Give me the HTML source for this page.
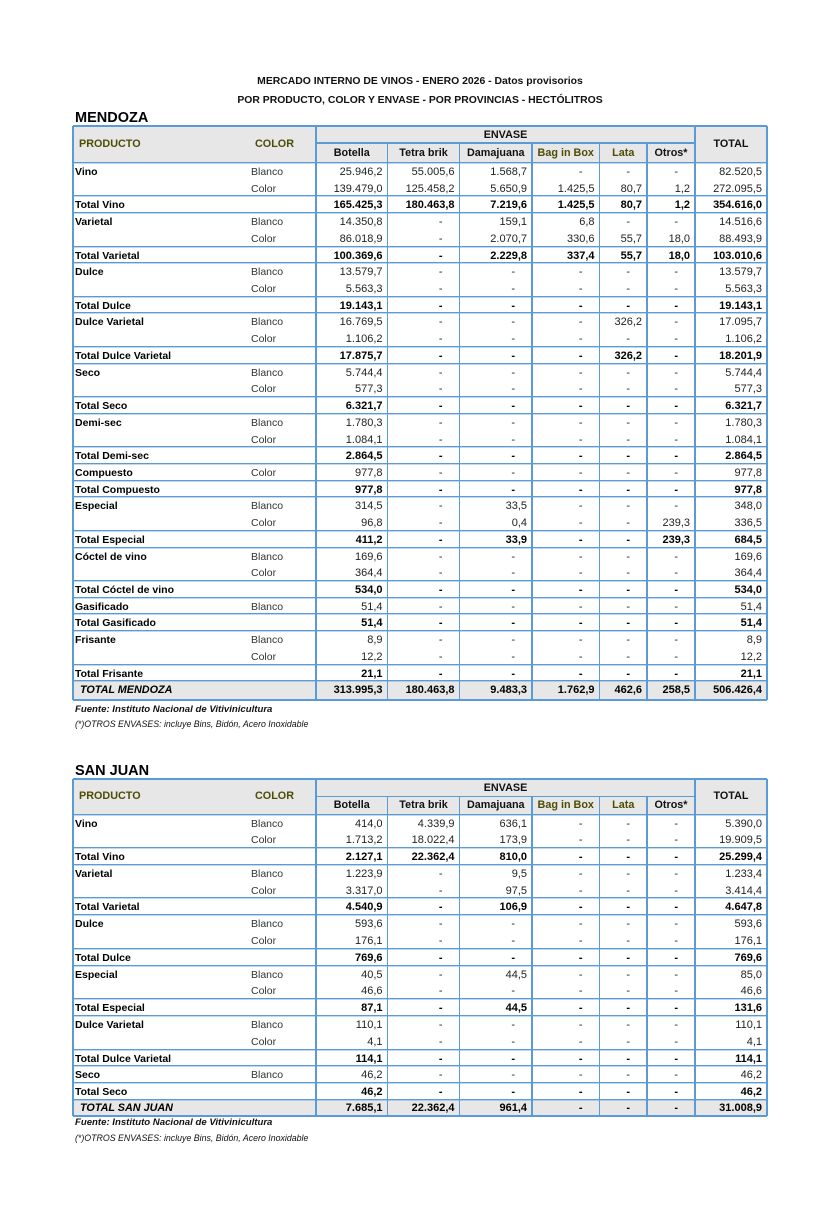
<!DOCTYPE html>
<html><head><meta charset="utf-8">
<style>
html,body{margin:0;padding:0;background:#fff}
body{width:840px;height:1206px;position:relative;overflow:hidden;font-family:"Liberation Sans",Arial,sans-serif;color:#111}
.ttl{position:absolute;left:0;width:840px;text-align:center;font-weight:bold;font-size:10.4px;height:14px;line-height:14px;color:#111}
.prov{position:absolute;left:75px;font-weight:bold;font-size:14.5px;height:18px;line-height:18px;color:#000}
.fn{position:absolute;left:75px;font-style:italic;font-size:8.8px;height:12px;line-height:12px;color:#111;white-space:nowrap}
.fn.b{font-weight:bold;font-size:9.6px}
.tb{position:absolute;left:73px;width:694px}
.hd{position:absolute;left:0;top:0;width:694px;background:#e7e7e7}
.hd span{position:absolute;font-weight:bold;font-size:10.8px;height:16px;line-height:16px;text-align:center;white-space:nowrap;color:#111}
.ol{color:#4d4d06!important}
.rows{position:absolute;left:0;width:694px}
.r{display:flex;height:16.73px;line-height:16.73px;font-size:11px;color:#222;white-space:nowrap}
.sj .r{height:16.8px;line-height:16.8px}
.r>span{display:block;box-sizing:border-box;position:relative;top:2px;flex:none}
.r>span:nth-child(1){width:176px;padding-left:2px;font-weight:bold;font-size:10.5px;color:#000}
.r>span:nth-child(2){width:67px;padding-left:2px;font-size:10.5px;color:#333}
.r>span:nth-child(n+3){text-align:right;padding-right:5px}
.r>span:nth-child(3){width:71.5px}
.r>span:nth-child(4){width:72px}
.r>span:nth-child(5){width:72.5px}
.r>span:nth-child(6){width:67.5px}
.r>span:nth-child(7){width:47.5px}
.r>span:nth-child(8){width:48px}
.r>span:nth-child(9){width:72px}
.r>span.d{padding-right:17px}
.r.t>span{font-weight:bold;color:#000}
.bt{box-shadow:inset 0 1.4px 0 #5b9bd5}
.r.tot{background:#e7e7e7}
.r.tot>span{top:1px}
.r.tot>span:nth-child(1){padding-left:7px;font-style:italic;font-size:10.8px}
.v{position:absolute;width:1.4px;margin-left:-0.7px;background:#5b9bd5}
.h{position:absolute;height:1.4px;margin-top:-0.7px;background:#5b9bd5}
</style></head><body>

<div class="ttl" style="top:75px">MERCADO INTERNO DE VINOS - ENERO 2026 - Datos provisorios</div>
<div class="ttl" style="top:94px">POR PRODUCTO, COLOR Y ENVASE - POR PROVINCIAS - HECTÓLITROS</div>

<div class="prov" style="top:109px">MENDOZA</div>

<div class="tb" style="top:126px;height:574px">
  <div class="hd" style="height:36px">
    <span class="ol" style="left:6px;top:10px;text-align:left">PRODUCTO</span>
    <span class="ol" style="left:182px;top:10px;text-align:left">COLOR</span>
    <span style="left:243px;width:379px;top:1px">ENVASE</span>
    <span style="left:243px;width:71.5px;top:19px">Botella</span>
    <span style="left:314.5px;width:72px;top:19px">Tetra brik</span>
    <span style="left:386.5px;width:72.5px;top:19px">Damajuana</span>
    <span class="ol" style="left:459px;width:67.5px;top:19px">Bag in Box</span>
    <span class="ol" style="left:526.5px;width:47.5px;top:19px">Lata</span>
    <span style="left:574px;width:48px;top:19px">Otros*</span>
    <span style="left:622px;width:72px;top:10px">TOTAL</span>
  </div>
  <div class="rows" style="top:36px">
    <div class="r bt"><span>Vino</span><span>Blanco</span><span>25.946,2</span><span>55.005,6</span><span>1.568,7</span><span class="d">-</span><span class="d">-</span><span class="d">-</span><span>82.520,5</span></div>
    <div class="r"><span></span><span>Color</span><span>139.479,0</span><span>125.458,2</span><span>5.650,9</span><span>1.425,5</span><span>80,7</span><span>1,2</span><span>272.095,5</span></div>
    <div class="r t bt"><span>Total Vino</span><span></span><span>165.425,3</span><span>180.463,8</span><span>7.219,6</span><span>1.425,5</span><span>80,7</span><span>1,2</span><span>354.616,0</span></div>
    <div class="r bt"><span>Varietal</span><span>Blanco</span><span>14.350,8</span><span class="d">-</span><span>159,1</span><span>6,8</span><span class="d">-</span><span class="d">-</span><span>14.516,6</span></div>
    <div class="r"><span></span><span>Color</span><span>86.018,9</span><span class="d">-</span><span>2.070,7</span><span>330,6</span><span>55,7</span><span>18,0</span><span>88.493,9</span></div>
    <div class="r t bt"><span>Total Varietal</span><span></span><span>100.369,6</span><span class="d">-</span><span>2.229,8</span><span>337,4</span><span>55,7</span><span>18,0</span><span>103.010,6</span></div>
    <div class="r bt"><span>Dulce</span><span>Blanco</span><span>13.579,7</span><span class="d">-</span><span class="d">-</span><span class="d">-</span><span class="d">-</span><span class="d">-</span><span>13.579,7</span></div>
    <div class="r"><span></span><span>Color</span><span>5.563,3</span><span class="d">-</span><span class="d">-</span><span class="d">-</span><span class="d">-</span><span class="d">-</span><span>5.563,3</span></div>
    <div class="r t bt"><span>Total Dulce</span><span></span><span>19.143,1</span><span class="d">-</span><span class="d">-</span><span class="d">-</span><span class="d">-</span><span class="d">-</span><span>19.143,1</span></div>
    <div class="r bt"><span>Dulce Varietal</span><span>Blanco</span><span>16.769,5</span><span class="d">-</span><span class="d">-</span><span class="d">-</span><span>326,2</span><span class="d">-</span><span>17.095,7</span></div>
    <div class="r"><span></span><span>Color</span><span>1.106,2</span><span class="d">-</span><span class="d">-</span><span class="d">-</span><span class="d">-</span><span class="d">-</span><span>1.106,2</span></div>
    <div class="r t bt"><span>Total Dulce Varietal</span><span></span><span>17.875,7</span><span class="d">-</span><span class="d">-</span><span class="d">-</span><span>326,2</span><span class="d">-</span><span>18.201,9</span></div>
    <div class="r bt"><span>Seco</span><span>Blanco</span><span>5.744,4</span><span class="d">-</span><span class="d">-</span><span class="d">-</span><span class="d">-</span><span class="d">-</span><span>5.744,4</span></div>
    <div class="r"><span></span><span>Color</span><span>577,3</span><span class="d">-</span><span class="d">-</span><span class="d">-</span><span class="d">-</span><span class="d">-</span><span>577,3</span></div>
    <div class="r t bt"><span>Total Seco</span><span></span><span>6.321,7</span><span class="d">-</span><span class="d">-</span><span class="d">-</span><span class="d">-</span><span class="d">-</span><span>6.321,7</span></div>
    <div class="r bt"><span>Demi-sec</span><span>Blanco</span><span>1.780,3</span><span class="d">-</span><span class="d">-</span><span class="d">-</span><span class="d">-</span><span class="d">-</span><span>1.780,3</span></div>
    <div class="r"><span></span><span>Color</span><span>1.084,1</span><span class="d">-</span><span class="d">-</span><span class="d">-</span><span class="d">-</span><span class="d">-</span><span>1.084,1</span></div>
    <div class="r t bt"><span>Total Demi-sec</span><span></span><span>2.864,5</span><span class="d">-</span><span class="d">-</span><span class="d">-</span><span class="d">-</span><span class="d">-</span><span>2.864,5</span></div>
    <div class="r bt"><span>Compuesto</span><span>Color</span><span>977,8</span><span class="d">-</span><span class="d">-</span><span class="d">-</span><span class="d">-</span><span class="d">-</span><span>977,8</span></div>
    <div class="r t bt"><span>Total Compuesto</span><span></span><span>977,8</span><span class="d">-</span><span class="d">-</span><span class="d">-</span><span class="d">-</span><span class="d">-</span><span>977,8</span></div>
    <div class="r bt"><span>Especial</span><span>Blanco</span><span>314,5</span><span class="d">-</span><span>33,5</span><span class="d">-</span><span class="d">-</span><span class="d">-</span><span>348,0</span></div>
    <div class="r"><span></span><span>Color</span><span>96,8</span><span class="d">-</span><span>0,4</span><span class="d">-</span><span class="d">-</span><span>239,3</span><span>336,5</span></div>
    <div class="r t bt"><span>Total Especial</span><span></span><span>411,2</span><span class="d">-</span><span>33,9</span><span class="d">-</span><span class="d">-</span><span>239,3</span><span>684,5</span></div>
    <div class="r bt"><span>Cóctel de vino</span><span>Blanco</span><span>169,6</span><span class="d">-</span><span class="d">-</span><span class="d">-</span><span class="d">-</span><span class="d">-</span><span>169,6</span></div>
    <div class="r"><span></span><span>Color</span><span>364,4</span><span class="d">-</span><span class="d">-</span><span class="d">-</span><span class="d">-</span><span class="d">-</span><span>364,4</span></div>
    <div class="r t bt"><span>Total Cóctel de vino</span><span></span><span>534,0</span><span class="d">-</span><span class="d">-</span><span class="d">-</span><span class="d">-</span><span class="d">-</span><span>534,0</span></div>
    <div class="r bt"><span>Gasificado</span><span>Blanco</span><span>51,4</span><span class="d">-</span><span class="d">-</span><span class="d">-</span><span class="d">-</span><span class="d">-</span><span>51,4</span></div>
    <div class="r t bt"><span>Total Gasificado</span><span></span><span>51,4</span><span class="d">-</span><span class="d">-</span><span class="d">-</span><span class="d">-</span><span class="d">-</span><span>51,4</span></div>
    <div class="r bt"><span>Frisante</span><span>Blanco</span><span>8,9</span><span class="d">-</span><span class="d">-</span><span class="d">-</span><span class="d">-</span><span class="d">-</span><span>8,9</span></div>
    <div class="r"><span></span><span>Color</span><span>12,2</span><span class="d">-</span><span class="d">-</span><span class="d">-</span><span class="d">-</span><span class="d">-</span><span>12,2</span></div>
    <div class="r t bt"><span>Total Frisante</span><span></span><span>21,1</span><span class="d">-</span><span class="d">-</span><span class="d">-</span><span class="d">-</span><span class="d">-</span><span>21,1</span></div>
    <div class="r t bt tot" style="height:19.3px;line-height:19.3px"><span>TOTAL MENDOZA</span><span></span><span>313.995,3</span><span>180.463,8</span><span>9.483,3</span><span>1.762,9</span><span>462,6</span><span>258,5</span><span>506.426,4</span></div>
  </div>
  <!-- lines -->
  <div class="v" style="left:0;top:0;height:574px"></div>
  <div class="v" style="left:694px;top:0;height:574px"></div>
  <div class="h" style="left:0;top:0;width:694px"></div>
  <div class="h" style="left:0;top:574px;width:694px"></div>
  <div class="h" style="left:243px;top:17px;width:379px"></div>
  <div class="v" style="left:243px;top:0;height:574px"></div>
  <div class="v" style="left:622px;top:0;height:574px"></div>
  <div class="v" style="left:314.5px;top:17px;height:557px"></div>
  <div class="v" style="left:386.5px;top:17px;height:557px"></div>
  <div class="v" style="left:459px;top:17px;height:557px"></div>
  <div class="v" style="left:526.5px;top:17px;height:557px"></div>
  <div class="v" style="left:574px;top:17px;height:557px"></div>
</div>

<div class="fn b" style="top:704px">Fuente: Instituto Nacional de Vitivinicultura</div>
<div class="fn" style="top:718px">(*)OTROS ENVASES: incluye Bins, Bidón, Acero Inoxidable</div>

<div class="prov" style="top:762px">SAN JUAN</div>

<div class="tb sj" style="top:779px;height:337px">
  <div class="hd" style="height:34.5px">
    <span class="ol" style="left:6px;top:9px;text-align:left">PRODUCTO</span>
    <span class="ol" style="left:182px;top:9px;text-align:left">COLOR</span>
    <span style="left:243px;width:379px;top:1px">ENVASE</span>
    <span style="left:243px;width:71.5px;top:18px">Botella</span>
    <span style="left:314.5px;width:72px;top:18px">Tetra brik</span>
    <span style="left:386.5px;width:72.5px;top:18px">Damajuana</span>
    <span class="ol" style="left:459px;width:67.5px;top:18px">Bag in Box</span>
    <span class="ol" style="left:526.5px;width:47.5px;top:18px">Lata</span>
    <span style="left:574px;width:48px;top:18px">Otros*</span>
    <span style="left:622px;width:72px;top:9px">TOTAL</span>
  </div>
  <div class="rows" style="top:34.5px">
    <div class="r bt"><span>Vino</span><span>Blanco</span><span>414,0</span><span>4.339,9</span><span>636,1</span><span class="d">-</span><span class="d">-</span><span class="d">-</span><span>5.390,0</span></div>
    <div class="r"><span></span><span>Color</span><span>1.713,2</span><span>18.022,4</span><span>173,9</span><span class="d">-</span><span class="d">-</span><span class="d">-</span><span>19.909,5</span></div>
    <div class="r t bt"><span>Total Vino</span><span></span><span>2.127,1</span><span>22.362,4</span><span>810,0</span><span class="d">-</span><span class="d">-</span><span class="d">-</span><span>25.299,4</span></div>
    <div class="r bt"><span>Varietal</span><span>Blanco</span><span>1.223,9</span><span class="d">-</span><span>9,5</span><span class="d">-</span><span class="d">-</span><span class="d">-</span><span>1.233,4</span></div>
    <div class="r"><span></span><span>Color</span><span>3.317,0</span><span class="d">-</span><span>97,5</span><span class="d">-</span><span class="d">-</span><span class="d">-</span><span>3.414,4</span></div>
    <div class="r t bt"><span>Total Varietal</span><span></span><span>4.540,9</span><span class="d">-</span><span>106,9</span><span class="d">-</span><span class="d">-</span><span class="d">-</span><span>4.647,8</span></div>
    <div class="r bt"><span>Dulce</span><span>Blanco</span><span>593,6</span><span class="d">-</span><span class="d">-</span><span class="d">-</span><span class="d">-</span><span class="d">-</span><span>593,6</span></div>
    <div class="r"><span></span><span>Color</span><span>176,1</span><span class="d">-</span><span class="d">-</span><span class="d">-</span><span class="d">-</span><span class="d">-</span><span>176,1</span></div>
    <div class="r t bt"><span>Total Dulce</span><span></span><span>769,6</span><span class="d">-</span><span class="d">-</span><span class="d">-</span><span class="d">-</span><span class="d">-</span><span>769,6</span></div>
    <div class="r bt"><span>Especial</span><span>Blanco</span><span>40,5</span><span class="d">-</span><span>44,5</span><span class="d">-</span><span class="d">-</span><span class="d">-</span><span>85,0</span></div>
    <div class="r"><span></span><span>Color</span><span>46,6</span><span class="d">-</span><span class="d">-</span><span class="d">-</span><span class="d">-</span><span class="d">-</span><span>46,6</span></div>
    <div class="r t bt"><span>Total Especial</span><span></span><span>87,1</span><span class="d">-</span><span>44,5</span><span class="d">-</span><span class="d">-</span><span class="d">-</span><span>131,6</span></div>
    <div class="r bt"><span>Dulce Varietal</span><span>Blanco</span><span>110,1</span><span class="d">-</span><span class="d">-</span><span class="d">-</span><span class="d">-</span><span class="d">-</span><span>110,1</span></div>
    <div class="r"><span></span><span>Color</span><span>4,1</span><span class="d">-</span><span class="d">-</span><span class="d">-</span><span class="d">-</span><span class="d">-</span><span>4,1</span></div>
    <div class="r t bt"><span>Total Dulce Varietal</span><span></span><span>114,1</span><span class="d">-</span><span class="d">-</span><span class="d">-</span><span class="d">-</span><span class="d">-</span><span>114,1</span></div>
    <div class="r bt"><span>Seco</span><span>Blanco</span><span>46,2</span><span class="d">-</span><span class="d">-</span><span class="d">-</span><span class="d">-</span><span class="d">-</span><span>46,2</span></div>
    <div class="r t bt"><span>Total Seco</span><span></span><span>46,2</span><span class="d">-</span><span class="d">-</span><span class="d">-</span><span class="d">-</span><span class="d">-</span><span>46,2</span></div>
    <div class="r t bt tot" style="height:17px;line-height:17px"><span>TOTAL SAN JUAN</span><span></span><span>7.685,1</span><span>22.362,4</span><span>961,4</span><span class="d">-</span><span class="d">-</span><span class="d">-</span><span>31.008,9</span></div>
  </div>
  <div class="v" style="left:0;top:0;height:337px"></div>
  <div class="v" style="left:694px;top:0;height:337px"></div>
  <div class="h" style="left:0;top:0;width:694px"></div>
  <div class="h" style="left:0;top:337px;width:694px"></div>
  <div class="h" style="left:243px;top:17.7px;width:379px"></div>
  <div class="v" style="left:243px;top:0;height:337px"></div>
  <div class="v" style="left:622px;top:0;height:337px"></div>
  <div class="v" style="left:314.5px;top:17.7px;height:319.3px"></div>
  <div class="v" style="left:386.5px;top:17.7px;height:319.3px"></div>
  <div class="v" style="left:459px;top:17.7px;height:319.3px"></div>
  <div class="v" style="left:526.5px;top:17.7px;height:319.3px"></div>
  <div class="v" style="left:574px;top:17.7px;height:319.3px"></div>
</div>

<div class="fn b" style="top:1117px">Fuente: Instituto Nacional de Vitivinicultura</div>
<div class="fn" style="top:1132px">(*)OTROS ENVASES: incluye Bins, Bidón, Acero Inoxidable</div>

</body></html>
